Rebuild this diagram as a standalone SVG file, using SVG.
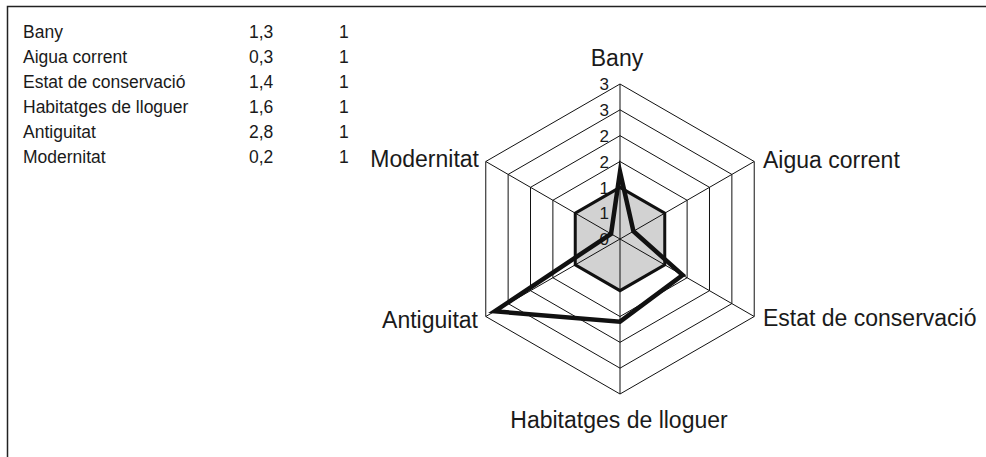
<svg xmlns="http://www.w3.org/2000/svg" width="986" height="457" viewBox="0 0 986 457">
<style>
text{font-family:"Liberation Sans",Arial,sans-serif;fill:#1a1a1a}
.tb{font-size:17.5px}
.lb{font-size:23px}
.ax{font-size:17px;text-anchor:end}
.ring{fill:none;stroke:#111;stroke-width:1}
.spoke{stroke:#111;stroke-width:1}
</style>
<rect width="986" height="457" fill="#fff"/>
<path id="frame" d="M7.5,457 V6.5 H986" fill="none" stroke="#222" stroke-width="1.5"/>
<g id="table">
<text class="tb" x="23" y="38">Bany</text><text class="tb" x="249" y="38">1,3</text><text class="tb" x="339" y="38">1</text>
<text class="tb" x="23" y="63">Aigua corrent</text><text class="tb" x="249" y="63">0,3</text><text class="tb" x="339" y="63">1</text>
<text class="tb" x="23" y="88">Estat de conservació</text><text class="tb" x="249" y="88">1,4</text><text class="tb" x="339" y="88">1</text>
<text class="tb" x="23" y="113">Habitatges de lloguer</text><text class="tb" x="249" y="113">1,6</text><text class="tb" x="339" y="113">1</text>
<text class="tb" x="23" y="138">Antiguitat</text><text class="tb" x="249" y="138">2,8</text><text class="tb" x="339" y="138">1</text>
<text class="tb" x="23" y="163">Modernitat</text><text class="tb" x="249" y="163">0,2</text><text class="tb" x="339" y="163">1</text>
</g>
<g id="grid">
<polygon class="ring" points="620,213.17 642.37,226.08 642.37,251.92 620,264.83 597.63,251.92 597.63,226.08"/>
<polygon class="ring" points="620,187.33 664.75,213.17 664.75,264.83 620,290.67 575.25,264.83 575.25,213.17"/>
<polygon class="ring" points="620,161.5 687.12,200.25 687.12,277.75 620,316.5 552.88,277.75 552.88,200.25"/>
<polygon class="ring" points="620,135.67 709.49,187.33 709.49,290.67 620,342.33 530.51,290.67 530.51,187.33"/>
<polygon class="ring" points="620,109.83 731.86,174.42 731.86,303.58 620,368.17 508.14,303.58 508.14,174.42"/>
<polygon class="ring" points="620,84 754.23,161.5 754.23,316.5 620,394 485.77,316.5 485.77,161.5"/>
</g>
<g id="reference-series">
<polygon points="620,187.33 664.75,213.17 664.75,264.83 620,290.67 575.25,264.83 575.25,213.17" fill="#d2d2d2" stroke="#111" stroke-width="3"/>
</g>
<g id="spokes">
<line class="spoke" x1="620" y1="239" x2="620" y2="84"/>
<line class="spoke" x1="620" y1="239" x2="754.23" y2="161.5"/>
<line class="spoke" x1="620" y1="239" x2="754.23" y2="316.5"/>
<line class="spoke" x1="620" y1="239" x2="620" y2="394"/>
<line class="spoke" x1="620" y1="239" x2="485.77" y2="316.5"/>
<line class="spoke" x1="620" y1="239" x2="485.77" y2="161.5"/>
</g>
<g id="scale">
<text class="ax" x="609" y="90">3</text>
<text class="ax" x="609" y="116">3</text>
<text class="ax" x="609" y="142">2</text>
<text class="ax" x="609" y="167.5">2</text>
<text class="ax" x="609" y="193.5">1</text>
<text class="ax" x="609" y="219">1</text>
<text class="ax" x="609" y="245">0</text>
</g>
<g id="data-series">
<polygon points="620,171.83 633.42,231.25 682.64,275.17 620,321.67 494.72,311.33 611.05,233.83" fill="none" stroke="#111" stroke-width="4.5" stroke-linejoin="miter" stroke-miterlimit="6"/>
</g>
<g id="axis-labels">
<text id="lbl-bany" class="lb" x="617" y="66" text-anchor="middle">Bany</text>
<text id="lbl-aigua" class="lb" x="763" y="168">Aigua corrent</text>
<text id="lbl-estat" class="lb" x="763" y="326">Estat de conservació</text>
<text id="lbl-habitatges" class="lb" x="619" y="428" text-anchor="middle">Habitatges de lloguer</text>
<text id="lbl-antiguitat" class="lb" x="478" y="328" text-anchor="end">Antiguitat</text>
<text id="lbl-modernitat" class="lb" x="479" y="167" text-anchor="end">Modernitat</text>
</g>
</svg>
